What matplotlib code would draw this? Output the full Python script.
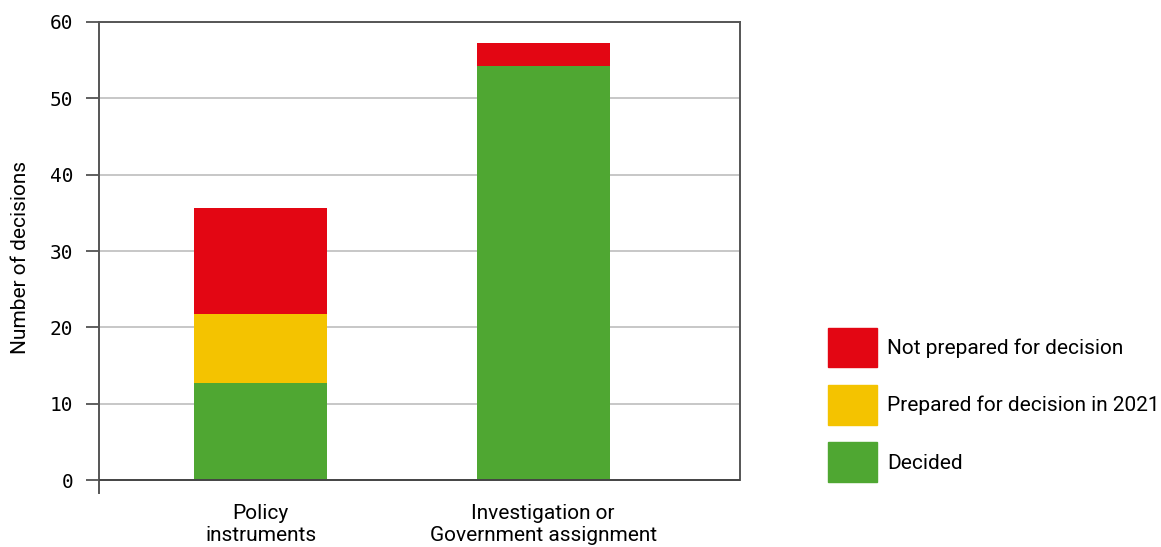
import matplotlib
matplotlib.use("Agg")
import matplotlib.pyplot as plt
from matplotlib.patches import Patch
import numpy as np

categories = ["Policy\ninstruments", "Investigation or\nGovernment assignment"]
decided = [12.7, 54.2]
prepared_2021 = [9.0, 0.0]
not_prepared = [13.9, 3.0]

series_labels = ["Not prepared for decision", "Prepared for decision in 2021", "Decided"]
red, yellow, green = "#e30613", "#f4c300", "#4fa732"
y_ticks = [0, 10, 20, 30, 40, 50, 60]

plt.rcParams["font.family"] = ["Roboto", "DejaVu Sans"]
fig = plt.figure(figsize=(11.61, 5.47), dpi=100)
ax = fig.add_axes([0.0853, 0.0987, 0.5521, 0.8611])

x = np.arange(len(categories))
w = 0.47
ax.bar(x, decided, w, color=green, zorder=3)
ax.bar(x, prepared_2021, w, bottom=decided, color=yellow, zorder=3)
ax.bar(x, not_prepared, w, bottom=np.add(decided, prepared_2021), color=red, zorder=3)

ax.set_xlim(-0.572, 1.697)
ax.set_ylim(-1.7, 60)
ax.set_yticks(y_ticks)
ax.set_yticklabels([str(t) for t in y_ticks], family="DejaVu Sans Mono", fontsize=14)
ax.grid(axis="y", color="#b8b8b8", lw=1.1, zorder=0)
ax.axhline(0, color="#444444", lw=1.4, zorder=4)

ax.set_xticks(x)
ax.set_xticklabels(categories, fontsize=15, linespacing=1.2)
ax.tick_params(axis="x", length=0, pad=8)
ax.tick_params(axis="y", direction="out", length=9.5, width=1.2, color="#444444", pad=9)

for s in ["left", "top", "right"]:
    ax.spines[s].set_color("#555555")
    ax.spines[s].set_linewidth(1.4)
ax.spines["right"].set_bounds(0, 60)
ax.spines["bottom"].set_visible(False)

ax.set_ylabel("Number of decisions", fontsize=15, labelpad=14)

handles = [Patch(color=c) for c in (red, yellow, green)]
fig.legend(handles, series_labels, loc="lower left",
           bbox_to_anchor=(828 / 1161, 65 / 547), frameon=False,
           fontsize=15, handlelength=2.35, handleheight=2.55,
           labelspacing=0.85, handletextpad=0.5, borderpad=0, borderaxespad=0)

fig.savefig("out.png", dpi=100)
